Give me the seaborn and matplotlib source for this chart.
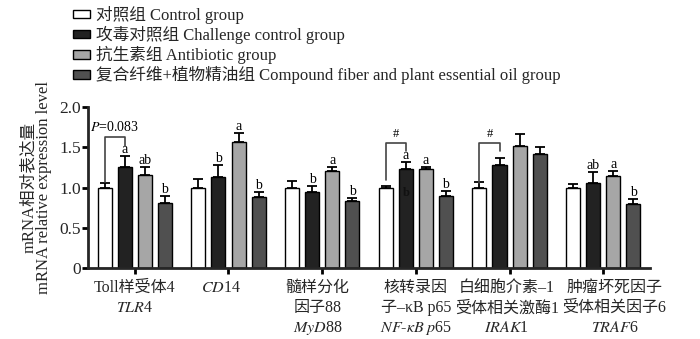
import numpy as np
import pandas as pd
import matplotlib
matplotlib.use("Agg")
import matplotlib.pyplot as plt
import seaborn as sns

# ---- data ----
genes = ["TLR4", "CD14", "MyD88", "NF-kB p65", "IRAK1", "TRAF6"]
groups = ["对照组 Control group", "攻毒对照组 Challenge control group",
          "抗生素组 Antibiotic group",
          "复合纤维+植物精油组 Compound fiber and plant essential oil group"]
control = [1.00, 1.00, 1.00, 1.00, 1.00, 1.00]
challenge = [1.26, 1.13, 0.95, 1.23, 1.28, 1.06]
antibiotic = [1.15, 1.56, 1.20, 1.23, 1.51, 1.14]
compound = [0.81, 0.88, 0.83, 0.90, 1.41, 0.80]
err_control = [0.05, 0.11, 0.08, 0.02, 0.07, 0.04]
err_challenge = [0.13, 0.15, 0.07, 0.09, 0.09, 0.13]
err_antibiotic = [0.11, 0.12, 0.05, 0.03, 0.16, 0.07]
err_compound = [0.09, 0.06, 0.04, 0.06, 0.09, 0.06]
letters_challenge = ["a", "b", "b", "a", "", "ab"]
letters_antibiotic = ["ab", "a", "a", "a", "", "a"]
letters_compound = ["b", "b", "b", "b", "", "b"]
tick_lines = [
    ["Toll样受体4", r"$\mathit{TLR}$4"],
    [r"$\mathit{CD}$14"],
    ["髓样分化", "因子88", r"$\mathit{MyD}$88"],
    ["核转录因", "子–κB p65", r"$\mathit{NF}$-$\mathit{\kappa B\ p}$65"],
    ["白细胞介素–1", "受体相关激酶1", r"$\mathit{IRAK}$1"],
    ["肿瘤坏死因子", "受体相关因子6", r"$\mathit{TRAF}$6"],
]
tick_dx = [0.0, -0.08, -0.05, 0.0, -0.03, 0.12]

values = [control, challenge, antibiotic, compound]
errors = [err_control, err_challenge, err_antibiotic, err_compound]
letters = [[""] * 6, letters_challenge, letters_antibiotic, letters_compound]
colors = ["#ffffff", "#222222", "#a6a6a6", "#505050"]

df = pd.DataFrame({
    "gene": np.repeat([genes], 4, axis=0).ravel(),
    "group": np.repeat(groups, 6),
    "value": np.concatenate(values),
})

sns.set_theme(style="ticks")
plt.rcParams["font.family"] = ["Liberation Serif", "Noto Sans CJK SC", "DejaVu Sans"]
plt.rcParams["mathtext.fontset"] = "stix"

fig = plt.figure(figsize=(7.0, 3.39), dpi=100)
ax = fig.add_axes([0.1257, 0.2094, 0.8029, 0.475])

sns.barplot(data=df, x="gene", y="value", hue="group", order=genes,
            hue_order=groups, palette=colors, errorbar=None,
            width=0.855, gap=0.3, edgecolor="black", linewidth=1.0,
            ax=ax, legend=True)

# error bars & letters, positioned from library bars
bars = ax.patches
for gi in range(4):
    for ki in range(6):
        p = bars[gi * 6 + ki]
        cx = p.get_x() + p.get_width() / 2
        top = p.get_height()
        e = errors[gi][ki]
        ax.errorbar([cx], [top], yerr=[[0], [e]], fmt="none", ecolor="black",
                    elinewidth=1.3, capsize=3.5, capthick=1.3, zorder=3)
        lt = letters[gi][ki]
        if lt:
            ax.text(cx, top + e + 0.0, lt, ha="center", va="bottom",
                    fontsize=10, color="black")

def centre(gi, ki):
    p = bars[gi * 6 + ki]
    return p.get_x() + p.get_width() / 2

# brackets
def bracket(ki, y_h, y_left, y_right, label, fs):
    x1, x2 = centre(0, ki), centre(1, ki)
    ax.plot([x1, x1, x2, x2], [y_left, y_h, y_h, y_right], color="#444444",
            lw=1.2, clip_on=False, zorder=4)
    ax.text((x1 + x2) / 2, y_h + 0.04, label,
            ha="center", va="bottom", fontsize=fs, color="black")

bracket(0, 1.63, 1.07, 1.51, r"$\mathit{P}$=0.083", 10)
bracket(3, 1.55, 1.09, 1.45, "#", 9)
bracket(4, 1.55, 1.06, 1.45, "#", 9)
# stray mark inside bar
ax.text(centre(1, 3), 0.93, "b", ha="center", va="center", fontsize=9,
        color="#111111", fontweight="bold")

ax.set_xlim(-0.5, 5.5)
ax.set_ylim(0, 2.0)
ax.set_yticks([0, 0.5, 1.0, 1.5, 2.0])
ax.set_yticklabels(["0", "0.5", "1.0", "1.5", "2.0"], fontsize=12.5)
ax.set_xticks(range(6))
ax.set_xticklabels([""] * 6)
ax.set_xlabel("")
ax.set_ylabel("mRNA相对表达量\nmRNA relative expression level",
              fontsize=12, linespacing=1.0, labelpad=5)
sns.despine(ax=ax)
for s in ["left", "bottom"]:
    ax.spines[s].set_linewidth(2.0)
ax.tick_params(axis="both", width=2.0, length=4, color="black", pad=1)

for i, lines in enumerate(tick_lines):
    for j, t in enumerate(lines):
        ax.text(i + tick_dx[i], -0.25 - j * 0.25, t, ha="center", va="center",
                fontsize=11.5, clip_on=False)

# legend
handles, labs = ax.get_legend_handles_labels()
leg = ax.legend(handles, labs, loc="upper left", frameon=False, fontsize=12,
                handlelength=1.0, handleheight=0.4, handletextpad=0.4,
                labelspacing=0.12, borderaxespad=0, borderpad=0)
leg.set_bbox_to_anchor((73 / 700, 1 - 6 / 339), transform=fig.transFigure)

fig.savefig("out.png", dpi=100)
